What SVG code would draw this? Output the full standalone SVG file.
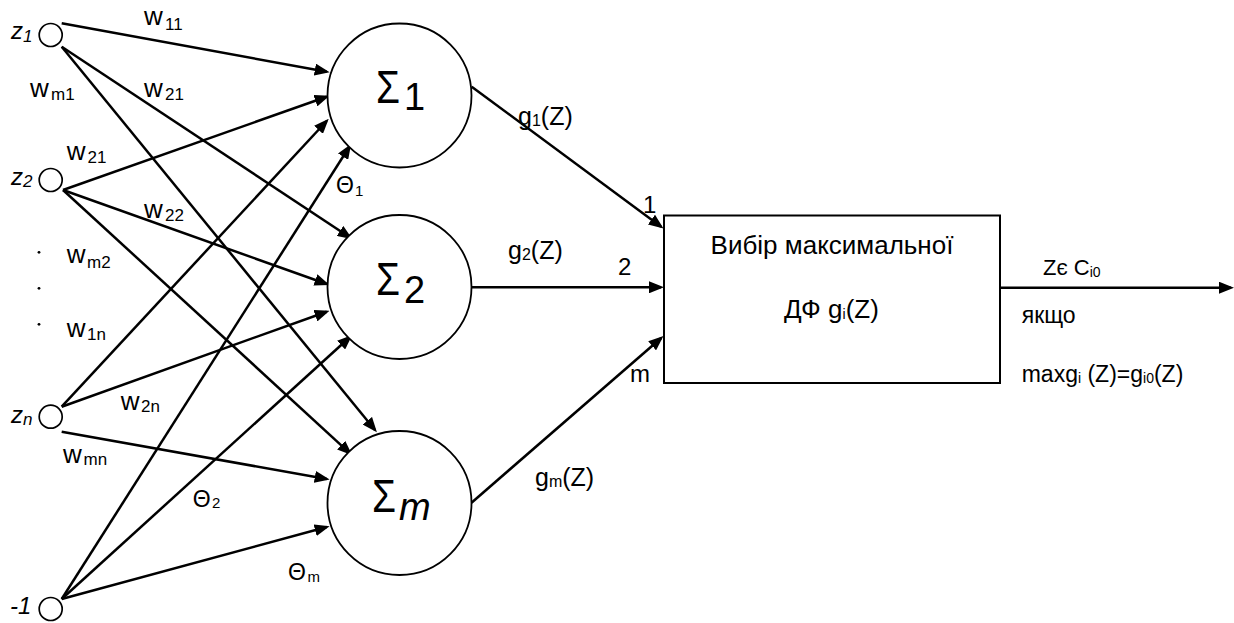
<svg xmlns="http://www.w3.org/2000/svg" width="1234" height="623" viewBox="0 0 1234 623">
  <defs>
    <marker id="arrow" markerUnits="userSpaceOnUse" markerWidth="15" markerHeight="12" refX="12" refY="6" orient="auto">
      <path d="M0,0 L15,6 L0,12 z" fill="#000"/>
    </marker>
    <style>
      text { font-family: "Liberation Sans", Arial, sans-serif; fill: #000; }
      .in { fill: #fff; stroke: #000; stroke-width: 1.7; }
      .sum { fill: #fff; stroke: #000; stroke-width: 1.8; }
      .box { fill: #fff; stroke: #000; stroke-width: 2; }
      .conn line { stroke: #000; stroke-width: 2.5; fill: none; marker-end: url(#arrow); }
      .zl { font-size: 24px; font-style: italic; }
      .zs { font-size: 17px; font-style: italic; }
      .w { font-size: 26px; }
      .ws { font-size: 17px; }
      .th { font-size: 23px; }
      .ths { font-size: 15px; }
      .sig { font-size: 46px; }
      .sigs { font-size: 38px; }
      .g { font-size: 25px; }
      .gs { font-size: 16px; }
      .num { font-size: 24px; }
      .bt { font-size: 26px; }
      .rt { font-size: 22px; }
      .rm { font-size: 23px; }
      .rs { font-size: 14px; }
    </style>
  </defs>

  <!-- weighted links, outputs and result arrow -->
  <g id="connectors" class="conn">
    <line x1="61.7" y1="23.3" x2="326.7" y2="71.7"/>
    <line x1="61.7" y1="46.7" x2="350" y2="237.5"/>
    <line x1="61.7" y1="46.7" x2="375" y2="430"/>
    <line x1="63" y1="190" x2="326.7" y2="96.7"/>
    <line x1="63" y1="190" x2="326.7" y2="284"/>
    <line x1="63" y1="190" x2="350" y2="453.3"/>
    <line x1="61.7" y1="406.7" x2="326.7" y2="121"/>
    <line x1="61.7" y1="406.7" x2="326.7" y2="311.7"/>
    <line x1="61.7" y1="431.7" x2="326.7" y2="479"/>
    <line x1="61.7" y1="599" x2="349.5" y2="146.5"/>
    <line x1="61.7" y1="599" x2="350" y2="337"/>
    <line x1="61.7" y1="599" x2="326.7" y2="527"/>
    <line x1="471.7" y1="86.7" x2="661.1" y2="226.7"/>
    <line x1="471.5" y1="287.3" x2="661" y2="287.3"/>
    <line x1="471.5" y1="502.7" x2="661.2" y2="338"/>
    <line x1="1000" y1="287.7" x2="1231" y2="287.7"/>
  </g>

  <!-- input nodes -->
  <g id="input-z1">
    <circle class="in" cx="50.7" cy="35" r="11.5"/>
    <text class="zl" x="11" y="39">z<tspan class="zs" x="23" y="42">1</tspan></text>
  </g>
  <g id="input-z2">
    <circle class="in" cx="50.7" cy="180" r="11.5"/>
    <text class="zl" x="11" y="185">z<tspan class="zs" x="23" y="187">2</tspan></text>
  </g>
  <g id="input-zn">
    <circle class="in" cx="50.7" cy="416.7" r="11.5"/>
    <text class="zl" x="11" y="423">z<tspan class="zs" x="23" y="425">n</tspan></text>
  </g>
  <g id="input-bias">
    <circle class="in" cx="50.7" cy="609" r="11.5"/>
    <text class="zl" x="10" y="614">-1</text>
  </g>

  <!-- ellipsis between z2 and zn -->
  <g id="dots" fill="#000">
    <circle cx="39" cy="252.3" r="1.4"/>
    <circle cx="39" cy="288.3" r="1.4"/>
    <circle cx="39" cy="324.3" r="1.4"/>
  </g>

  <!-- summing neurons -->
  <g id="sum-1">
    <circle class="sum" cx="399.5" cy="95.5" r="72"/>
    <text class="sig" x="376" y="103.3"><tspan textLength="24" lengthAdjust="spacingAndGlyphs">Σ</tspan><tspan class="sigs" x="404" y="110">1</tspan></text>
  </g>
  <g id="sum-2">
    <circle class="sum" cx="399.5" cy="287" r="72"/>
    <text class="sig" x="376" y="295"><tspan textLength="24" lengthAdjust="spacingAndGlyphs">Σ</tspan><tspan class="sigs" x="404" y="303">2</tspan></text>
  </g>
  <g id="sum-m">
    <circle class="sum" cx="399.5" cy="503" r="72"/>
    <text class="sig" x="372" y="511.7"><tspan textLength="24" lengthAdjust="spacingAndGlyphs">Σ</tspan><tspan class="sigs" x="399" y="520" font-style="italic">m</tspan></text>
  </g>

  <!-- maximum selector -->
  <g id="selector">
    <rect class="box" x="664" y="215.5" width="336" height="167.5"/>
    <text class="bt" x="832" y="254" text-anchor="middle">Вибір максимальної</text>
    <text class="bt" x="784" y="318">ДФ g<tspan class="rs" dy="1">i</tspan><tspan dy="-1">(Z)</tspan></text>
  </g>

  <!-- weight labels -->
  <g id="weights">
    <text class="w" x="144" y="25">w<tspan class="ws" x="165" y="30">11</tspan></text>
    <text class="w" x="30" y="97">w<tspan class="ws" x="51" y="100">m1</tspan></text>
    <text class="w" x="144" y="96.7">w<tspan class="ws" x="165" y="100">21</tspan></text>
    <text class="w" x="66.7" y="160">w<tspan class="ws" x="87.5" y="163">21</tspan></text>
    <text class="w" x="144" y="218.3">w<tspan class="ws" x="165" y="220.7">22</tspan></text>
    <text class="w" x="66.7" y="263.3">w<tspan class="ws" x="87" y="268">m2</tspan></text>
    <text class="w" x="66.7" y="336.7">w<tspan class="ws" x="87" y="340">1n</tspan></text>
    <text class="w" x="120.7" y="409.5">w<tspan class="ws" x="141" y="411.7">2n</tspan></text>
    <text class="w" x="63" y="462.7">w<tspan class="ws" x="83.5" y="465">mn</tspan></text>
  </g>

  <!-- thresholds -->
  <g id="thresholds">
    <text class="th" x="336" y="193.3">Θ<tspan class="ths" x="355" y="196">1</tspan></text>
    <text class="th" x="192.7" y="506.5">Θ<tspan class="ths" x="212" y="508.3">2</tspan></text>
    <text class="th" x="288" y="580">Θ<tspan class="ths" x="307.5" y="582">m</tspan></text>
  </g>

  <!-- discriminant function outputs -->
  <g id="outputs">
    <text class="g" x="518" y="125">g<tspan class="gs" dy="1">1</tspan><tspan dy="-1">(Z)</tspan></text>
    <text class="g" x="508" y="259">g<tspan class="gs" dy="1">2</tspan><tspan dy="-1">(Z)</tspan></text>
    <text class="g" x="535" y="486">g<tspan class="gs" dy="1">m</tspan><tspan dy="-1">(Z)</tspan></text>
    <text class="num" x="643" y="213">1</text>
    <text class="num" x="618" y="275">2</text>
    <text class="num" x="630" y="381.5">m</text>
  </g>

  <!-- decision rule -->
  <g id="decision">
    <text class="rt" x="1043" y="275">Zє C<tspan class="rs" dy="2">i0</tspan></text>
    <text class="rm" x="1021.7" y="323">якщо</text>
    <text class="rm" x="1021.7" y="381.7">maxg<tspan class="rs" dy="1.5">i</tspan><tspan dy="-1.5"> (Z)=g</tspan><tspan class="rs" dy="1.5">i0</tspan><tspan dy="-1.5">(Z)</tspan></text>
  </g>
</svg>
